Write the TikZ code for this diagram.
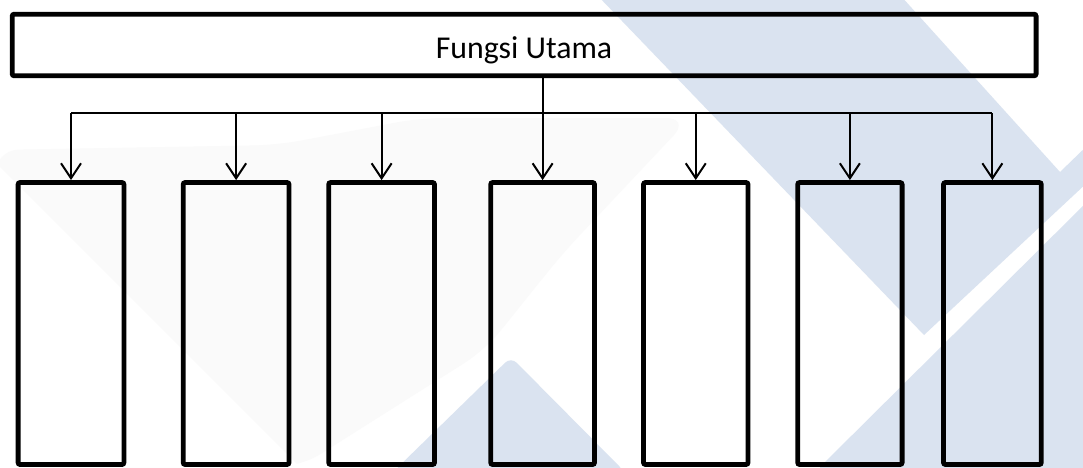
\documentclass[tikz,border=0pt]{standalone}
\usepackage{fontspec}
\setmainfont{Carlito}
\usetikzlibrary{arrows.meta}
\definecolor{markblue}{RGB}{218,227,240}
\definecolor{markgray}{RGB}{250,250,250}
\begin{document}
\begin{tikzpicture}[x=0.5pt,y=-0.5pt,
  mainbox/.style={draw, line width=2.4pt, rounded corners=1pt, inner sep=0pt,
    minimum width=511.95pt, minimum height=30.8pt},
  childbox/.style={draw, line width=2.4pt, rounded corners=1pt, inner sep=0pt,
    minimum height=141pt},
  link/.style={line width=1pt},
  linkarrow/.style={link, -{Straight Barb[length=7.5pt, width=10pt, line width=1pt]}}]
\useasboundingbox (0,0) rectangle (1083,467);
\fill[white] (0,0) rectangle (1083,467);

% background logo shapes
\fill[markgray, rounded corners=12pt] (-5,150) -- (278,145) -- (420,118) -- (690,118)
  -- (610,203) -- (563,253) -- (485,350) -- (300,467) -- (-5,467) -- (-5,162) -- cycle;
\fill[white] (-5,162) -- (300,467) -- (-5,467) -- cycle;
\fill[markblue] (597,-5) -- (900,-5) -- (1060,172) -- (1090,143) -- (1090,180)
  -- (924,335) -- cycle;
\fill[markblue] (820,467) -- (1090,199) -- (1090,472) -- (820,472) -- cycle;
\fill[markblue, rounded corners=4pt] (393,472) -- (511,357) -- (625,472) -- cycle;

% top function box
\node[mainbox] (main) at (524.15,45) {};
\node[anchor=base, font=\fontsize{15.9pt}{19pt}\selectfont] (title) at (524,58) {Fungsi Utama};

% sub-function boxes
\node[childbox, minimum width=52.9pt]  (b1) at (71.0,323.5) {};
\node[childbox, minimum width=52.9pt]  (b2) at (236.1,323.5) {};
\node[childbox, minimum width=52.9pt]  (b3) at (381.6,323.5) {};
\node[childbox, minimum width=51.9pt]  (b4) at (542.6,323.5) {};
\node[childbox, minimum width=52.25pt] (b5) at (695.75,323.5) {};
\node[childbox, minimum width=52.2pt]  (b6) at (849.9,323.5) {};
\node[childbox, minimum width=48.9pt]  (b7) at (992.4,323.5) {};

% distribution bus
\coordinate (bus) at (0,113);
\draw[linkarrow] (main.south -| b4.north) -- (b4.north);
\draw[link] (bus -| b1.north) -- (bus -| b7.north);
\foreach \b in {b1,b2,b3,b5,b6,b7}
  \draw[linkarrow] (bus -| \b.north) -- (\b.north);
\end{tikzpicture}
\end{document}
